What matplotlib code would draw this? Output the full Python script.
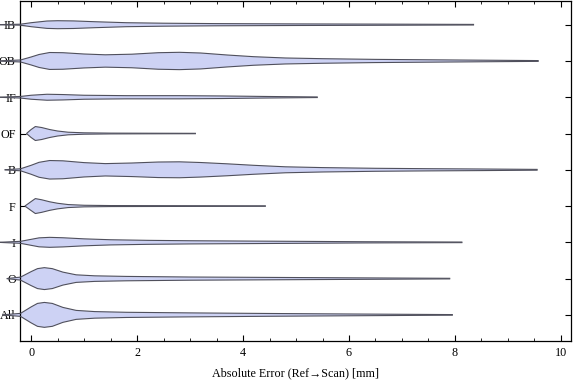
import matplotlib
matplotlib.use('Agg')
import matplotlib.pyplot as plt
import numpy as np

plt.rcParams['font.family'] = ['Liberation Serif', 'DejaVu Serif']

# categories from bottom to top
categories = ['All', 'O', 'I', 'F', 'B', 'OF', 'IF', 'OB', 'IB']

# sample points along the error axis (mm) and violin half-widths (density, px-ish)
x_all = [-0.53, -0.2, 0.0, 0.12, 0.25, 0.4, 0.6, 0.85, 1.2, 1.8, 3.0, 4.5, 6.0, 7.95]
w_all = [0.1, 1.5, 8.0, 11.5, 12.5, 11.5, 7.5, 4.5, 3.3, 2.6, 2.0, 1.4, 0.9, 0.3]

x_o = [-0.45, -0.2, 0.0, 0.12, 0.25, 0.4, 0.6, 0.85, 1.2, 1.8, 3.0, 4.5, 6.0, 7.9]
w_o = [0.1, 1.5, 7.0, 10.0, 11.0, 10.0, 6.5, 3.8, 2.8, 2.2, 1.6, 1.2, 0.8, 0.3]

x_i = [-0.58, -0.2, 0.0, 0.15, 0.35, 0.6, 1.0, 1.5, 2.2, 3.0, 4.0, 5.0, 6.3, 8.13]
w_i = [0.1, 1.0, 3.0, 4.5, 5.0, 4.6, 3.5, 2.6, 2.0, 1.6, 1.3, 1.0, 0.6, 0.3]

x_f = [-0.11, 0.0, 0.08, 0.2, 0.35, 0.5, 0.7, 1.0, 1.5, 2.5, 3.5, 4.42]
w_f = [0.3, 4.5, 7.5, 6.3, 4.3, 2.8, 1.5, 0.8, 0.5, 0.4, 0.3, 0.2]

x_b = [-0.49, -0.2, 0.0, 0.15, 0.35, 0.6, 1.0, 1.4, 1.9, 2.4, 2.8, 3.2, 3.7, 4.2,
       4.8, 5.5, 6.5, 7.5, 8.5, 9.55]
w_b = [0.1, 1.0, 4.5, 7.5, 9.3, 9.0, 7.2, 6.2, 6.8, 7.8, 8.0, 7.3, 6.0, 4.5,
       3.0, 2.2, 1.5, 1.1, 0.8, 0.4]

x_of = [-0.08, 0.0, 0.08, 0.2, 0.35, 0.5, 0.7, 1.0, 1.5, 2.2, 3.1]
w_of = [0.3, 4.0, 7.0, 6.0, 4.0, 2.5, 1.3, 0.7, 0.4, 0.3, 0.2]

x_if = [-0.58, -0.2, 0.0, 0.3, 0.6, 1.0, 1.8, 2.8, 3.6, 4.4, 5.4]
w_if = [0.1, 0.8, 2.0, 3.0, 2.7, 2.0, 1.6, 1.6, 1.3, 0.8, 0.3]

x_ob = [-0.6, -0.2, 0.0, 0.15, 0.35, 0.6, 1.0, 1.4, 1.9, 2.4, 2.8, 3.2, 3.7, 4.2,
        4.8, 5.5, 6.5, 7.5, 8.5, 9.57]
w_ob = [0.1, 1.0, 4.0, 6.5, 8.5, 8.3, 7.0, 6.2, 6.8, 8.3, 8.7, 8.0, 6.0, 4.3,
        3.0, 2.3, 1.6, 1.2, 0.8, 0.4]

x_ib = [-0.58, -0.2, 0.0, 0.3, 0.5, 0.8, 1.2, 1.8, 2.5, 3.5, 5.0, 6.5, 8.35]
w_ib = [0.1, 0.5, 2.0, 3.7, 4.0, 3.8, 3.0, 2.0, 1.5, 1.1, 0.8, 0.6, 0.3]

xs = [x_all, x_o, x_i, x_f, x_b, x_of, x_if, x_ob, x_ib]
ws = [w_all, w_o, w_i, w_f, w_b, w_of, w_if, w_ob, w_ib]

scale = 1 / 36.4
fill_color = '#cdd2f4'
edge_color = '#50505c'

fig = plt.figure(figsize=(5.76, 3.81), dpi=100)
ax = fig.add_axes([0.0347, 0.105, 0.9566, 0.893])

for k, (x, w) in enumerate(zip(xs, ws)):
    pos = k + 1
    x = np.array(x)
    w = np.array(w) * scale
    ax.fill_between(x, pos - w, pos + w, facecolor=fill_color, edgecolor='none',
                    clip_on=False, zorder=2)
    ax.plot(x, pos + w, color=edge_color, lw=0.8, clip_on=False, zorder=3)
    ax.plot(x, pos - w, color=edge_color, lw=0.8, clip_on=False, zorder=3)

ax.set_xlim(-0.21, 10.19)
ax.set_ylim(0.28, 9.66)
ax.set_yticks(range(1, len(categories) + 1))
ax.set_yticklabels(categories)
ax.set_xticks(np.arange(0, 11, 2))
ax.set_xticks(np.arange(0, 10.3, 0.5), minor=True)
ax.tick_params(axis='both', which='major', direction='in', length=4, width=0.8,
               labelsize=8.7, top=True, right=True, pad=3)
ax.tick_params(axis='x', which='major', pad=4)
ax.tick_params(axis='both', which='minor', direction='in', length=2, width=0.6,
               top=True, right=True)
ax.tick_params(axis='y', which='minor', left=False, right=False)
for s in ax.spines.values():
    s.set_linewidth(0.9)
ax.set_xlabel('Absolute Error (Ref\u2192Scan) [mm]', fontsize=8.7, labelpad=6)

fig.savefig('out.png', dpi=100)
